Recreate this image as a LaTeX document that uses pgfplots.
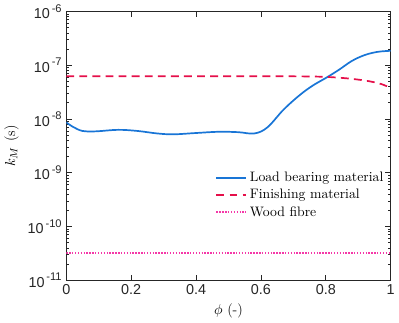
\documentclass[border=0pt]{standalone}
\usepackage{fontspec}
\usepackage{pgfplots}
\pgfplotsset{compat=1.18}
\newfontfamily\hv{Liberation Sans}
\definecolor{lbm}{rgb}{0.10,0.46,0.84}
\definecolor{fin}{rgb}{0.90,0.06,0.29}
\definecolor{wood}{rgb}{0.96,0.22,0.66}
\newcommand{\ex}[1]{10\raisebox{0.85ex}{\fontsize{8.5}{9}\selectfont\,#1}}

\begin{document}
\begin{tikzpicture}
\begin{axis}[
  scale only axis,
  width=248pt, height=205.5pt,
  ymode=log,
  xmin=0, xmax=1,
  ymin=1e-11, ymax=1e-6,
  xtick={0,0.2,0.4,0.6,0.8,1},
  xticklabels={0,0.2,0.4,0.6,0.8,1},
  ytick={1e-11,1e-10,1e-9,1e-8,1e-7,1e-6},
  yticklabels={\ex{-11},\ex{-10},\ex{-9},\ex{-8},\ex{-7},\ex{-6}},
  tick label style={font=\hv\fontsize{11}{13}\selectfont, text=black!85},
  xlabel={$\phi$ (-)},
  ylabel={$k_{M}$ (s)},
  label style={font=\fontsize{11}{13}\selectfont},
  tick align=inside,
  major tick length=4pt,
  minor tick length=2pt,
  axis line style={line width=0.8pt, black!85},
  every tick/.style={black!85, line width=0.6pt},
  legend style={draw=none, fill=none, font=\fontsize{10.5}{12.5}\selectfont,
    at={(rel axis cs:0.455,0.418)}, anchor=north west,
    row sep=0.3pt, inner sep=1pt},
  legend cell align=left,
  legend image code/.code={\draw[#1] (0cm,0cm) -- (0.8cm,0cm);},
]
\addplot[color=lbm, line width=1.3pt, smooth, tension=0.6, forget plot] coordinates {
  (0.00,8.7e-9) (0.02,7.2e-9) (0.05,6.0e-9) (0.09,5.9e-9) (0.16,6.3e-9)
  (0.22,6.0e-9) (0.28,5.4e-9) (0.33,5.2e-9) (0.40,5.5e-9) (0.47,5.8e-9)
  (0.53,5.7e-9) (0.58,5.4e-9) (0.62,7.0e-9) (0.67,1.5e-8) (0.72,2.8e-8)
  (0.76,4.2e-8) (0.80,5.8e-8) (0.84,8.2e-8) (0.88,1.20e-7) (0.92,1.55e-7)
  (0.96,1.78e-7) (1.00,1.86e-7)
};
\addplot[color=fin, line width=1.3pt, dash pattern=on 6pt off 4pt, smooth, forget plot] coordinates {
  (0.00,6.25e-8) (0.20,6.25e-8) (0.40,6.25e-8) (0.60,6.25e-8) (0.75,6.2e-8)
  (0.82,6.0e-8) (0.88,5.6e-8) (0.93,5.1e-8) (0.97,4.5e-8) (1.00,3.8e-8)
};
\addplot[color=wood, line width=1.5pt, dash pattern=on 1.1pt off 1.1pt, forget plot] coordinates {
  (0.00,3.25e-11) (1.00,3.25e-11)
};
\addlegendimage{color=lbm, line width=1.4pt}
\addlegendentry{Load bearing material}
\addlegendimage{color=fin, line width=1.6pt, dash pattern=on 6pt off 4pt}
\addlegendentry{Finishing material}
\addlegendimage{color=wood, line width=1.5pt, dash pattern=on 1.1pt off 1.1pt}
\addlegendentry{Wood fibre}
\end{axis}
\end{tikzpicture}
\end{document}
